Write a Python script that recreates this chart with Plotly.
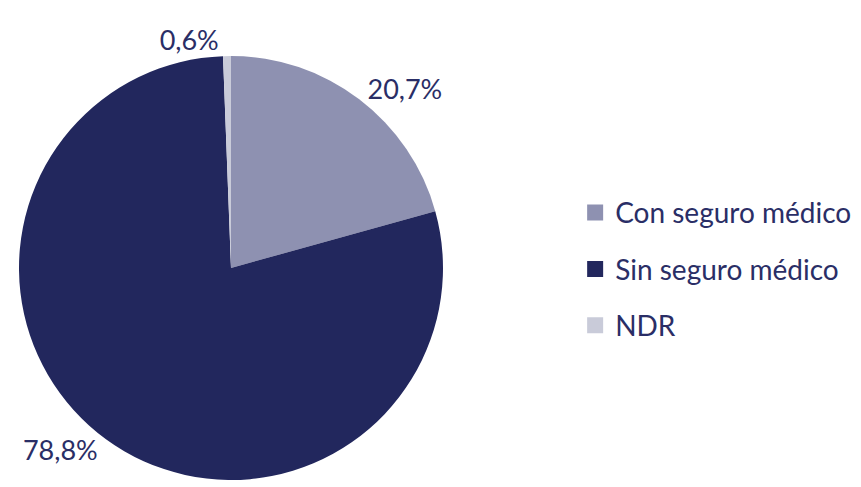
import plotly.graph_objects as go

labels = ["Con seguro médico", "Sin seguro médico", "NDR"]
values = [20.7, 78.8, 0.6]
text_labels = ["20,7%", "78,8%", "0,6%"]
colors = ["#8e91b1", "#22275d", "#c9cbd9"]

W, H = 861, 487
TXT = "#2a2e66"
FONT = "Lato, 'Open Sans', sans-serif"

fig = go.Figure()
fig.add_trace(go.Pie(
    labels=labels, values=values, text=text_labels,
    textinfo="text", textposition="outside",
    sort=False, direction="clockwise", rotation=0,
    marker=dict(colors=colors, line=dict(color="white", width=0)),
    textfont=dict(family=FONT, size=27, color=TXT),
    domain=dict(x=[19 / W, 443 / W], y=[1 - 480 / H, 1 - 56 / H]),
    showlegend=False, hoverinfo="skip",
))

for lab, col in zip(labels, colors):
    fig.add_trace(go.Scatter(
        x=[None], y=[None], mode="markers", name=lab, legendgroup=lab,
        marker=dict(symbol="square", size=16, color=col),
    ))

fig.update_layout(
    width=W, height=H,
    margin=dict(l=0, r=0, t=0, b=0),
    paper_bgcolor="white", plot_bgcolor="white",
    xaxis=dict(visible=False), yaxis=dict(visible=False),
    legend=dict(
        x=0.668, y=0.447, xanchor="left", yanchor="middle",
        font=dict(family=FONT, size=28, color=TXT),
        tracegroupgap=17, itemsizing="trace",
        bgcolor="rgba(0,0,0,0)",
    ),
)

fig.write_html("out.html", config={"displayModeBar": False},
               post_script="document.body.style.margin='0';")
